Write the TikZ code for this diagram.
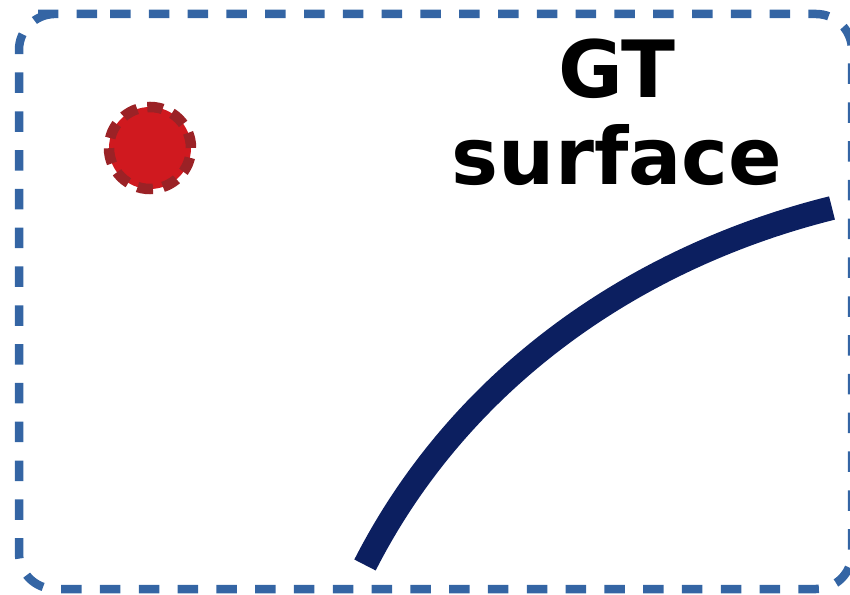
\documentclass[tikz,border=0pt]{standalone}
\usepackage{fontspec}
\newfontfamily\labelfont{DejaVu Sans}
\definecolor{frameblue}{RGB}{52,101,164}
\definecolor{navy}{RGB}{12,31,96}
\definecolor{dotred}{RGB}{208,25,31}
\definecolor{dotedge}{RGB}{155,34,38}
\tikzset{
  framebox/.style={draw=frameblue, line width=8.5pt, dash pattern=on 20.5pt off 18.3pt, rounded corners=36pt},
  surfaceline/.style={draw=navy, line width=24pt},
  gtdot/.style={circle, fill=dotred, draw=dotedge, line width=10.5pt, dash pattern=on 15.5pt off 10.3pt, minimum size=82pt, inner sep=0pt},
  gtlabel/.style={font=\labelfont\bfseries\fontsize{79}{87}\selectfont, align=center, inner sep=0pt}
}
\begin{document}
\begin{tikzpicture}[x=1pt,y=1pt]
\useasboundingbox (0,0) rectangle (850,594);
\clip (0,0) rectangle (850,594);
% frame
\coordinate (fstart) at (74,580);
\draw[framebox] (fstart) -- (852,580) -- (852,5) -- (19,5) -- (19,580) -- cycle;
% surface curve
\coordinate (sA) at (365,29);
\coordinate (sB) at (832,386);
\draw[surfaceline] (sA) to[out=63,in=194,looseness=0.9] (sB);
% dot
\node[gtdot] (dot) at (150,446) {};
% label
\node[gtlabel, anchor=base] (lbl) at (617,409) {GT\\surface};
\end{tikzpicture}
\end{document}
